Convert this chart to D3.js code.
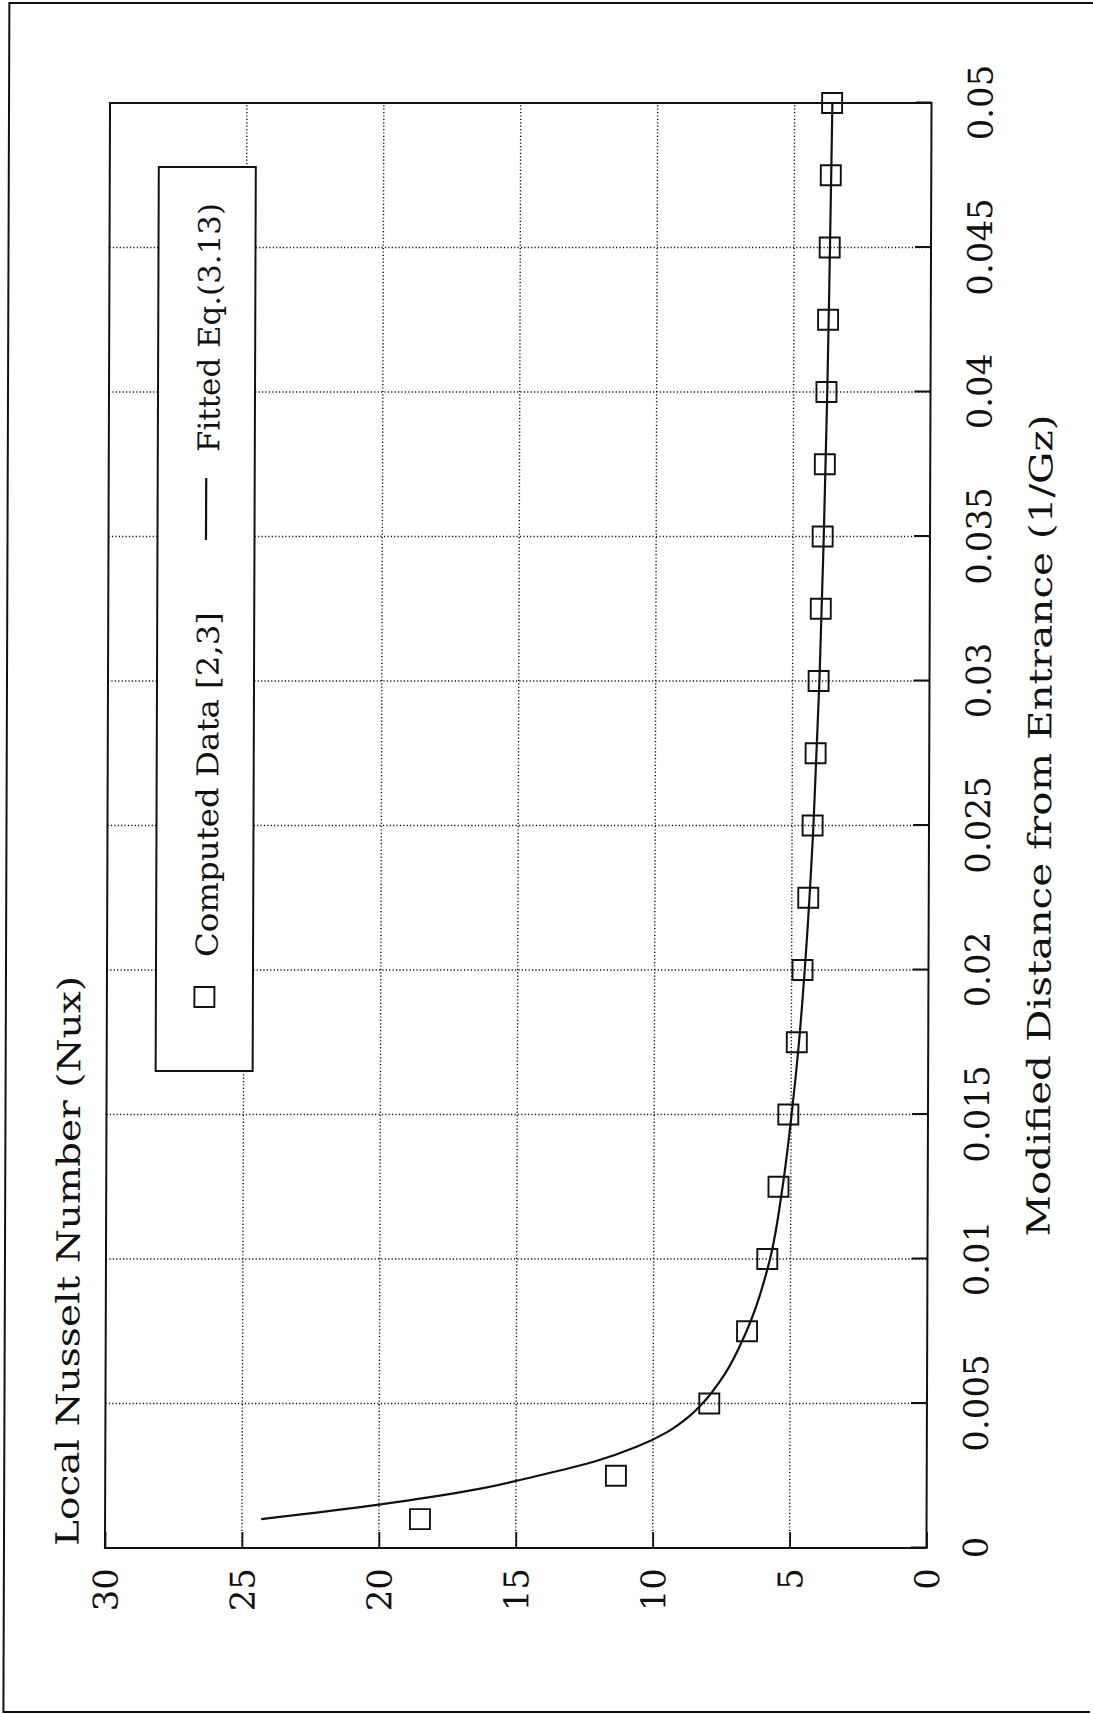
<!DOCTYPE html>
<html>
<head>
<meta charset="utf-8">
<script src="https://cdn.jsdelivr.net/npm/d3@7"></script>
<style>
  html, body { margin: 0; padding: 0; background: #fff; }
  svg { display: block; }
</style>
</head>
<body>
<svg id="chart"></svg>
<script>
// Local Nusselt number along the entrance region: computed points vs fitted equation.

const xTicks = [0, 0.005, 0.01, 0.015, 0.02, 0.025, 0.03, 0.035, 0.04, 0.045, 0.05];
const xTickLabels = ["0", "0.005", "0.01", "0.015", "0.02", "0.025", "0.03", "0.035", "0.04", "0.045", "0.05"];
const yTicks = [0, 5, 10, 15, 20, 25, 30];
const yTickLabels = ["0", "5", "10", "15", "20", "25", "30"];

// Computed data [2,3]
const computedX = [0.001, 0.0025, 0.005, 0.0075, 0.01, 0.0125, 0.015, 0.0175, 0.02, 0.0225,
                   0.025, 0.0275, 0.03, 0.0325, 0.035, 0.0375, 0.04, 0.0425, 0.045, 0.0475, 0.05];
const computedNu = [18.5, 11.35, 7.95, 6.58, 5.85, 5.45, 5.1, 4.8, 4.6, 4.4,
                    4.25, 4.15, 4.05, 3.98, 3.92, 3.85, 3.8, 3.75, 3.7, 3.67, 3.63];

// Fitted Eq.(3.13)
const fittedX = [0.001, 0.0015, 0.002, 0.0025, 0.003, 0.0035, 0.004, 0.0045, 0.005, 0.006,
                 0.0075, 0.01, 0.0125, 0.015, 0.0175, 0.02, 0.025, 0.03, 0.035, 0.04, 0.045, 0.05];
const fittedNu = [24.3, 20.0, 16.6, 14.2, 12.1, 10.6, 9.5, 8.75, 8.2, 7.4,
                  6.6, 5.75, 5.3, 4.98, 4.72, 4.52, 4.22, 4.02, 3.88, 3.77, 3.69, 3.62];

const legendLabels = ["Computed Data [2,3]", "Fitted Eq.(3.13)"];
const xTitle = "Modified Distance from Entrance (1/Gz)";
const yTitle = "Local Nusselt Number (Nux)";

const W = 1093, H = 1714;
const FONT = "'DejaVu Serif', 'Liberation Serif', serif";
const INK = "#111";

const svg = d3.select("#chart").attr("width", W).attr("height", H);

// page group with a slight shear, as on the printed sheet
const k = 0.0035, yMid = 825;
const page = svg.append("g").attr("transform", `matrix(1,0,${-k},1,${k * yMid},0)`);

// sheet frame (top, left and bottom edges)
page.append("path")
  .attr("d", "M1093,3 H6.5 V1712 H1093")
  .attr("fill", "none").attr("stroke", INK).attr("stroke-width", 2);

// chart drawn in landscape orientation, turned a quarter turn
const chart = page.append("g").attr("transform", `translate(0,${H}) rotate(-90)`);

const x = d3.scaleLinear().domain([0, 0.05]).range([166, 1611]);
const y = d3.scaleLinear().domain([0, 30]).range([929, 107.5]);

// dotted grid
const grid = chart.append("g")
  .attr("stroke", INK).attr("stroke-width", 1.4).attr("stroke-dasharray", "1.2,2.2").attr("fill", "none");
grid.selectAll("line.gx").data(xTicks.slice(1, -1)).join("line")
  .attr("class", "gx")
  .attr("x1", d => x(d)).attr("x2", d => x(d))
  .attr("y1", y(30)).attr("y2", y(0));
grid.selectAll("line.gy").data(yTicks.slice(1, -1)).join("line")
  .attr("class", "gy")
  .attr("x1", x(0)).attr("x2", x(0.05))
  .attr("y1", d => y(d)).attr("y2", d => y(d));

// axes with inward ticks
const xAxis = chart.append("g")
  .attr("transform", `translate(0,${y(0)})`)
  .call(d3.axisBottom(x).tickValues(xTicks).tickFormat((d, i) => xTickLabels[i]).tickSize(-16));
const yAxis = chart.append("g")
  .attr("transform", `translate(${x(0)},0)`)
  .call(d3.axisLeft(y).tickValues(yTicks).tickFormat((d, i) => yTickLabels[i]).tickSize(-16));

[xAxis, yAxis].forEach(g => {
  g.select(".domain").remove();
  g.selectAll(".tick line").attr("stroke", INK).attr("stroke-width", 1.8);
  g.selectAll(".tick text")
    .attr("fill", INK)
    .style("font-family", FONT).style("font-size", "34px");
});
xAxis.selectAll(".tick text").attr("y", 61).attr("dy", 0);
yAxis.selectAll(".tick text").attr("x", -20).attr("dy", "0.36em");

// plot frame
chart.append("rect")
  .attr("x", x(0)).attr("y", y(30))
  .attr("width", x(0.05) - x(0)).attr("height", y(0) - y(30))
  .attr("fill", "none").attr("stroke", INK).attr("stroke-width", 2);

// fitted curve
const line = d3.line()
  .x((d, i) => x(fittedX[i]))
  .y(d => y(d))
  .curve(d3.curveMonotoneX);
chart.append("path")
  .datum(fittedNu)
  .attr("d", line)
  .attr("fill", "none").attr("stroke", INK).attr("stroke-width", 2.2);

// computed points
const S = 20;
chart.append("g").selectAll("rect").data(computedNu).join("rect")
  .attr("x", (d, i) => x(computedX[i]) - S / 2)
  .attr("y", d => y(d) - S / 2)
  .attr("width", S).attr("height", S)
  .attr("fill", "none").attr("stroke", INK).attr("stroke-width", 1.9);

// legend
const lg = chart.append("g");
lg.append("rect")
  .attr("x", 643).attr("y", 156.5).attr("width", 904).attr("height", 97)
  .attr("fill", "#fff").attr("stroke", INK).attr("stroke-width", 2);
lg.append("rect")
  .attr("x", 717 - S / 2).attr("y", 205 - S / 2).attr("width", S).attr("height", S)
  .attr("fill", "none").attr("stroke", INK).attr("stroke-width", 1.9);
lg.append("text")
  .attr("x", 757).attr("y", 218)
  .attr("textLength", 345).attr("lengthAdjust", "spacingAndGlyphs")
  .style("font-family", FONT).style("font-size", "30px").attr("fill", INK)
  .text(legendLabels[0]);
lg.append("line")
  .attr("x1", 1174).attr("x2", 1236).attr("y1", 205).attr("y2", 205)
  .attr("stroke", INK).attr("stroke-width", 2.2);
lg.append("text")
  .attr("x", 1262).attr("y", 218)
  .attr("textLength", 249).attr("lengthAdjust", "spacingAndGlyphs")
  .style("font-family", FONT).style("font-size", "30px").attr("fill", INK)
  .text(legendLabels[1]);

// axis titles
chart.append("text")
  .attr("x", 168).attr("y", 81)
  .attr("textLength", 570).attr("lengthAdjust", "spacingAndGlyphs")
  .style("font-family", FONT).style("font-size", "32px").attr("fill", INK)
  .text(yTitle);
chart.append("text")
  .attr("x", (x(0) + x(0.05)) / 2).attr("y", 1051)
  .attr("text-anchor", "middle")
  .attr("textLength", 822).attr("lengthAdjust", "spacingAndGlyphs")
  .style("font-family", FONT).style("font-size", "32px").attr("fill", INK)
  .text(xTitle);
</script>
</body>
</html>
